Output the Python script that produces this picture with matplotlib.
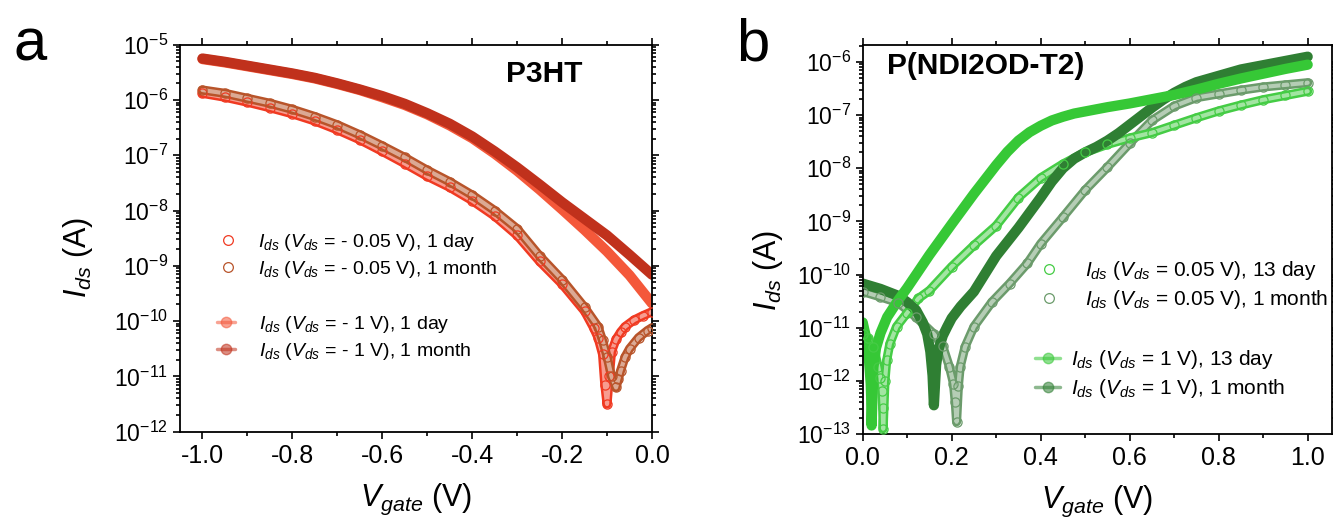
import numpy as np
import matplotlib
matplotlib.use("Agg")
import matplotlib.pyplot as plt
from matplotlib.ticker import LogLocator, NullFormatter, MultipleLocator, FuncFormatter

plt.rcParams["font.family"] = ["Liberation Sans", "DejaVu Sans"]
plt.rcParams["mathtext.fontset"] = "custom"
plt.rcParams["mathtext.rm"] = "Liberation Sans"
plt.rcParams["mathtext.it"] = "Liberation Sans:italic"
plt.rcParams["mathtext.bf"] = "Liberation Sans:bold"
plt.rcParams["axes.unicode_minus"] = False

# ---- panel a: P3HT, gate voltage (V) and log10(Ids / A) ----
a_vg_1v = [-1.00, -0.95, -0.90, -0.85, -0.80, -0.75, -0.70, -0.65, -0.60, -0.55, -0.50,
           -0.45, -0.40, -0.35, -0.30, -0.25, -0.20, -0.15, -0.10, -0.05, 0.00]
a_log_1v_1day = [-5.26, -5.32, -5.39, -5.46, -5.53, -5.61, -5.71, -5.82, -5.95, -6.09, -6.26,
                 -6.46, -6.69, -6.97, -7.28, -7.62, -7.98, -8.35, -8.74, -9.17, -9.68]
a_log_1v_1month = [-5.25, -5.31, -5.38, -5.45, -5.52, -5.60, -5.70, -5.81, -5.93, -6.07, -6.24,
                   -6.43, -6.66, -6.93, -7.22, -7.53, -7.85, -8.15, -8.45, -8.80, -9.16]

a_vg_005_1day = [-1.00, -0.95, -0.90, -0.85, -0.80, -0.75, -0.70, -0.65, -0.60, -0.55, -0.50,
                 -0.45, -0.40, -0.35, -0.30, -0.25, -0.20, -0.15, -0.13, -0.12, -0.11, -0.105,
                 -0.10, -0.095, -0.09, -0.08, -0.07, -0.06, -0.04, -0.02, 0.00]
a_log_005_1day = [-5.88, -5.95, -6.04, -6.14, -6.25, -6.38, -6.54, -6.72, -6.93, -7.15, -7.38,
                  -7.58, -7.82, -8.10, -8.45, -8.92, -9.33, -9.82, -10.12, -10.30, -10.60, -11.15,
                  -11.50, -11.00, -10.55, -10.33, -10.20, -10.10, -9.98, -9.90, -9.83]

a_vg_005_1month = [-1.00, -0.95, -0.90, -0.85, -0.80, -0.75, -0.70, -0.65, -0.60, -0.55, -0.50,
                   -0.45, -0.40, -0.35, -0.30, -0.25, -0.20, -0.15, -0.12, -0.11, -0.10, -0.09,
                   -0.08, -0.075, -0.07, -0.06, -0.05, -0.03, -0.01, 0.00]
a_log_005_1month = [-5.82, -5.88, -5.97, -6.06, -6.17, -6.30, -6.45, -6.63, -6.83, -7.04, -7.27,
                    -7.48, -7.72, -8.00, -8.33, -8.82, -9.25, -9.75, -10.10, -10.35, -10.64, -11.00,
                    -11.20, -11.05, -10.90, -10.65, -10.50, -10.30, -10.17, -10.12]

# ---- panel b: P(NDI2OD-T2) ----
b_vg_1v_13d = [0.000, 0.008, 0.014, 0.018, 0.019, 0.020, 0.024, 0.030, 0.040, 0.055, 0.080,
               0.10, 0.15, 0.20, 0.25, 0.30, 0.325, 0.35, 0.375, 0.40, 0.425, 0.45, 0.475,
               0.50, 0.55, 0.60, 0.65, 0.70, 0.75, 0.80, 0.85, 0.90, 0.95, 1.00]
b_log_1v_13d = [-10.90, -11.20, -11.60, -12.05, -12.30, -12.84, -11.75, -11.38, -11.10, -10.80,
                -10.48, -10.25, -9.63, -9.05, -8.48, -7.94, -7.69, -7.48, -7.32, -7.20, -7.10,
                -7.03, -6.97, -6.93, -6.85, -6.78, -6.70, -6.62, -6.52, -6.41, -6.31, -6.22,
                -6.13, -6.05]

b_vg_1v_1m = [0.00, 0.04, 0.08, 0.10, 0.12, 0.135, 0.145, 0.152, 0.157, 0.160, 0.165, 0.170,
              0.18, 0.19, 0.20, 0.22, 0.25, 0.30, 0.35, 0.40, 0.425, 0.45, 0.475, 0.50, 0.525,
              0.55, 0.575, 0.60, 0.625, 0.65, 0.675, 0.70, 0.725, 0.75, 0.80, 0.85, 0.90,
              0.95, 1.00]
b_log_1v_1m = [-10.17, -10.27, -10.40, -10.52, -10.67, -10.90, -11.12, -11.45, -11.90, -12.46,
               -11.70, -11.42, -11.15, -10.98, -10.82, -10.60, -10.32, -9.65, -9.12, -8.55,
               -8.25, -8.00, -7.82, -7.70, -7.60, -7.48, -7.34, -7.18, -7.02, -6.86, -6.71,
               -6.58, -6.47, -6.38, -6.26, -6.14, -6.06, -5.98, -5.90]

b_vg_005_13d = [0.000, 0.012, 0.024, 0.035, 0.040, 0.043, 0.045, 0.046, 0.050, 0.054, 0.061,
                0.076, 0.10, 0.125, 0.15, 0.20, 0.25, 0.30, 0.35, 0.40, 0.45, 0.50, 0.55, 0.60,
                0.65, 0.70, 0.75, 0.80, 0.85, 0.90, 0.95, 1.00]
b_log_005_13d = [-11.11, -11.20, -11.36, -11.74, -11.95, -12.20, -12.52, -12.90, -12.00, -11.61,
                 -11.30, -10.98, -10.72, -10.45, -10.30, -9.85, -9.45, -9.08, -8.55, -8.18,
                 -7.92, -7.70, -7.55, -7.43, -7.33, -7.19, -7.05, -6.92, -6.81, -6.71, -6.63, -6.55]

b_vg_005_1m = [0.00, 0.04, 0.08, 0.12, 0.16, 0.18, 0.195, 0.204, 0.208, 0.211, 0.215, 0.219,
               0.23, 0.25, 0.29, 0.33, 0.37, 0.40, 0.45, 0.50, 0.55, 0.60, 0.65, 0.70, 0.75,
               0.80, 0.85, 0.90, 0.95, 1.00]
b_log_005_1m = [-10.32, -10.42, -10.53, -10.80, -11.12, -11.35, -11.74, -12.05, -12.40, -12.77,
                -12.10, -11.74, -11.36, -10.98, -10.52, -10.17, -9.79, -9.42, -8.92, -8.41,
                -7.98, -7.53, -7.10, -6.83, -6.67, -6.60, -6.53, -6.47, -6.43, -6.39]

W, H = 1333, 522


def fx(px):
    return px / W


def fy(py):
    return 1 - py / H


def open_series(ax, x, logy, color, label):
    # hollow-circle band: coloured tube with a pale core, rings on the read points
    y = np.power(10.0, logy)
    ax.plot(x, y, color=color, lw=6.6, solid_capstyle="round", solid_joinstyle="round", zorder=2)
    ax.plot(x, y, color="white", lw=3.0, alpha=0.5, solid_capstyle="round",
            solid_joinstyle="round", zorder=2)
    line, = ax.plot(x, y, "o", ms=6.6, mfc="none", mec=color, mew=0.9, label=label, zorder=3)
    return line


def filled_series(ax, x, logy, color, label):
    y = np.power(10.0, logy)
    line, = ax.plot(x, y, "-", color=color, lw=7.4, solid_capstyle="round",
                    solid_joinstyle="round", label=label, zorder=2)
    return line


def style_axes(ax, xlim, ylim, ylabel_xy):
    ax.set_yscale("log")
    ax.set_xlim(*xlim)
    ax.set_ylim(*ylim)
    ax.xaxis.set_major_locator(MultipleLocator(0.2))
    ax.xaxis.set_minor_locator(MultipleLocator(0.1))
    ax.xaxis.set_major_formatter(FuncFormatter(lambda v, p: f"{round(v, 1) + 0.0:.1f}"))
    ax.yaxis.set_major_locator(LogLocator(base=10, numticks=30))
    ax.yaxis.set_minor_locator(LogLocator(base=10, subs=np.arange(2, 10), numticks=30))
    ax.yaxis.set_minor_formatter(NullFormatter())
    ax.tick_params(which="both", direction="out", top=True, right=True, width=1.2)
    ax.tick_params(which="major", length=5)
    ax.tick_params(which="minor", length=2.8)
    ax.tick_params(axis="x", labelsize=18)
    ax.tick_params(axis="y", labelsize=16.5)
    for s in ax.spines.values():
        s.set_linewidth(1.3)
    ax.set_xlabel(r"$V_{gate}$ (V)", fontsize=22, labelpad=10)
    ax.set_ylabel(r"$I_{ds}$ (A)", fontsize=22)
    ax.yaxis.set_label_coords(*ylabel_xy)


def add_legends(ax, open_lines, filled_lines, pos1, pos2, fs, hl2, htp1, htp2):
    leg1 = ax.legend(handles=open_lines, loc="center left", bbox_to_anchor=(fx(pos1[0]), fy(pos1[1])),
                     bbox_transform=ax.figure.transFigure, frameon=False, fontsize=fs,
                     handlelength=1.0, handletextpad=htp1, borderpad=0, borderaxespad=0,
                     labelspacing=0.3)
    for h in leg1.legend_handles:
        h.set_markersize(7)
    ax.add_artist(leg1)
    leg2 = ax.legend(handles=filled_lines, loc="center left", bbox_to_anchor=(fx(pos2[0]), fy(pos2[1])),
                     bbox_transform=ax.figure.transFigure, frameon=False, fontsize=fs,
                     handlelength=hl2, handletextpad=htp2, borderpad=0, borderaxespad=0,
                     labelspacing=0.3)
    for h in leg2.legend_handles:
        h.set_linewidth(2.5)
        h.set_marker("o")
        h.set_markersize(7.5)
        h.set_alpha(0.55)


fig = plt.figure(figsize=(W / 100, H / 100), dpi=100)

# panel a
ax_a = fig.add_axes([fx(180), fy(431.7), fx(652) - fx(180), fy(44.7) - fy(431.7)])
la1 = filled_series(ax_a, a_vg_1v, a_log_1v_1day, "#f4583a", r"$I_{ds}$ ($V_{ds}$ = - 1 V), 1 day")
la2 = filled_series(ax_a, a_vg_1v, a_log_1v_1month, "#c0311c", r"$I_{ds}$ ($V_{ds}$ = - 1 V), 1 month")
oa1 = open_series(ax_a, a_vg_005_1day, a_log_005_1day, "#f03a22",
                  r"$I_{ds}$ ($V_{ds}$ = - 0.05 V), 1 day")
oa2 = open_series(ax_a, a_vg_005_1month, a_log_005_1month, "#b8542a",
                  r"$I_{ds}$ ($V_{ds}$ = - 0.05 V), 1 month")
style_axes(ax_a, (-1.05, 0.0), (1e-12, 1e-5), (-0.18, 0.45))
ax_a.text(fx(544), fy(74), "P3HT", transform=fig.transFigure, fontsize=21.5,
          fontweight="bold", ha="center", va="center")
add_legends(ax_a, [oa1, oa2], [la1, la2], (218, 256), (217, 338), 14, 0.95, 1.05, 1.2)

# panel b
ax_b = fig.add_axes([fx(862.7), fy(434), fx(1331.7) - fx(862.7), fy(45) - fy(434)])
ob2 = open_series(ax_b, b_vg_005_1m, b_log_005_1m, "#6b9b6b",
                  r"$I_{ds}$ ($V_{ds}$ = 0.05 V), 1 month")
ob1 = open_series(ax_b, b_vg_005_13d, b_log_005_13d, "#45cc45",
                  r"$I_{ds}$ ($V_{ds}$ = 0.05 V), 13 day")
lb2 = filled_series(ax_b, b_vg_1v_1m, b_log_1v_1m, "#2f7f33", r"$I_{ds}$ ($V_{ds}$ = 1 V), 1 month")
lb1 = filled_series(ax_b, b_vg_1v_13d, b_log_1v_13d, "#36c836", r"$I_{ds}$ ($V_{ds}$ = 1 V), 13 day")
style_axes(ax_b, (0.0, 1.054), (1e-13, 10 ** -5.68), (-0.165, 0.42))
ax_b.text(fx(986), fy(66), "P(NDI2OD-T2)", transform=fig.transFigure, fontsize=21.5,
          fontweight="bold", ha="center", va="center")
add_legends(ax_b, [ob1, ob2], [lb1, lb2], (1039, 285), (1035, 374), 15, 1.2, 1.2, 0.55)

fig.text(fx(30), fy(45), "a", fontsize=43, ha="center", va="center")
fig.text(fx(753), fy(45), "b", fontsize=43, ha="center", va="center")

fig.savefig("out.png", dpi=100)
